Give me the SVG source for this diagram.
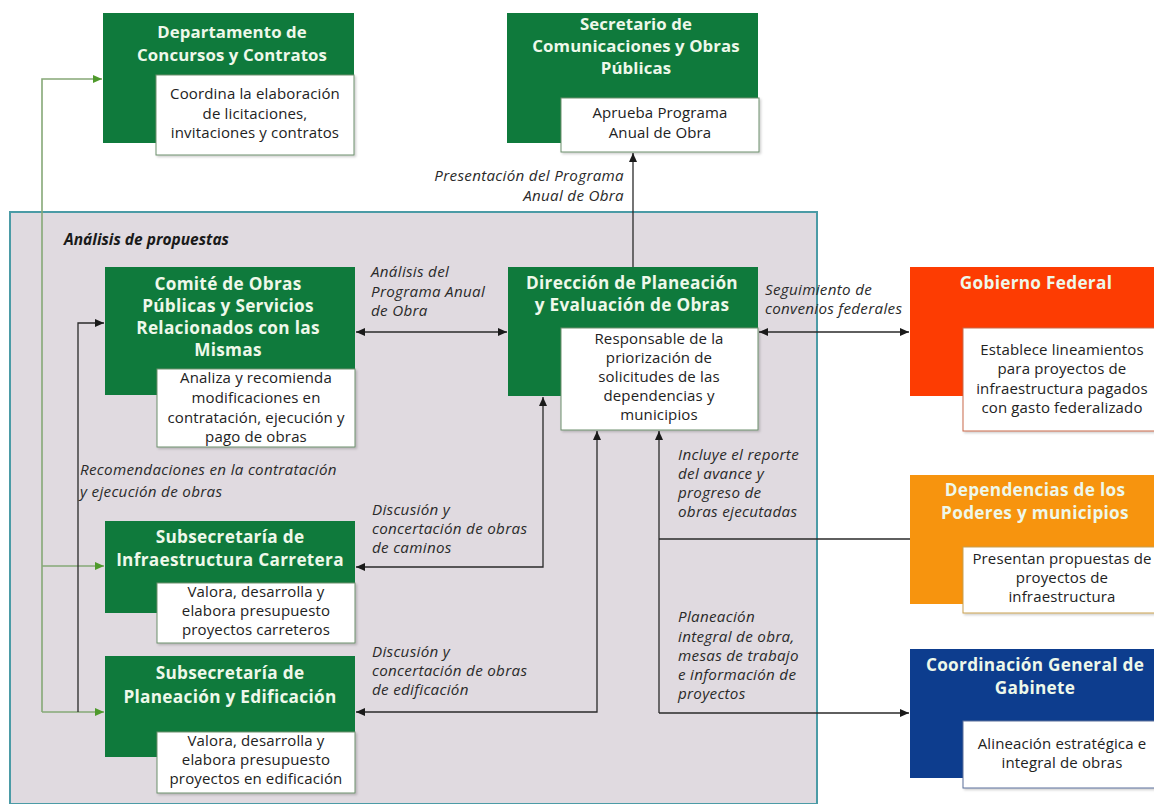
<svg xmlns="http://www.w3.org/2000/svg" width="1154" height="804" viewBox="0 0 1154 804">
  <defs>
    <marker id="arr" viewBox="0 0 9 8" refX="9" refY="4" markerWidth="9" markerHeight="8" markerUnits="userSpaceOnUse" orient="auto-start-reverse">
      <path d="M0,0 L9,4 L0,8 z" fill="#1a1a1a"/>
    </marker>
    <marker id="arrG" viewBox="0 0 9 8" refX="9" refY="4" markerWidth="9" markerHeight="8" markerUnits="userSpaceOnUse" orient="auto">
      <path d="M0,0 L9,4 L0,8 z" fill="#4f9a2c"/>
    </marker>
    <filter id="sh" x="-5%" y="-5%" width="115%" height="115%">
      <feDropShadow dx="1.5" dy="1.5" stdDeviation="1" flood-color="#000" flood-opacity="0.2"/>
    </filter>
  </defs>
  <style>
    .green { fill: #0f7a3c; }
    .red { fill: #fd3c02; }
    .orange { fill: #f7940e; }
    .blue { fill: #0d3d8e; }
    .card { fill: #ffffff; stroke: #6d8f6d; stroke-width: 1; filter: url(#sh); }
    .card-r { fill: #ffffff; stroke: #c96a4a; stroke-width: 1; filter: url(#sh); }
    .card-o { fill: #ffffff; stroke: #c9a050; stroke-width: 1; filter: url(#sh); }
    .card-b { fill: #ffffff; stroke: #5a6f9a; stroke-width: 1; filter: url(#sh); }
    .title { font-family: "Open Sans", "Noto Sans", sans-serif; font-weight: bold; font-size: 17.2px; letter-spacing: 0.3px; fill: #eef8ea; text-anchor: middle; }
    .title-s { font-size: 16.8px; letter-spacing: 0.1px; }
    .body { font-family: "Open Sans", "Noto Sans", sans-serif; font-size: 15px; letter-spacing: 0.15px; fill: #222; text-anchor: middle; }
    .lbl { font-family: "Open Sans", "Noto Sans", sans-serif; font-style: italic; font-size: 15.2px; letter-spacing: 0.3px; fill: #2a2a2a; }
    .line { fill: none; stroke: #2a2a2a; stroke-width: 1.3; }
    .gline { fill: none; stroke: #86a877; stroke-width: 1.6; }
  </style>

  <!-- white page -->
  <rect x="0" y="0" width="1154" height="804" fill="#ffffff"/>

  <!-- proposals analysis area -->
  <g id="area-analisis">
    <rect x="10" y="212" width="807" height="592" fill="#e0dae0" stroke="#4b9ba6" stroke-width="2"/>
    <text x="64" y="245" font-family="'Open Sans', 'Noto Sans', sans-serif" font-weight="bold" font-style="italic" font-size="15.5" fill="#1a1a1a">Análisis de propuestas</text>
  </g>

  <!-- connectors -->
  <g id="connectors">
    <path class="gline" d="M42,712 L42,79 L102,79" marker-end="url(#arrG)"/>
    <path class="gline" d="M42,566 L104,566" marker-end="url(#arrG)"/>
    <path class="gline" d="M42,712 L104,712" marker-end="url(#arrG)"/>
    <path class="line" d="M78,712 L78,323 L104,323" marker-end="url(#arr)"/>
    <path class="line" d="M633,267 L633,153" marker-end="url(#arr)"/>
    <path class="line" d="M356,332 L507,332" marker-start="url(#arr)" marker-end="url(#arr)"/>
    <path class="line" d="M759,332 L909,332" marker-start="url(#arr)" marker-end="url(#arr)"/>
    <path class="line" d="M543,397 L543,567 L356,567" marker-start="url(#arr)" marker-end="url(#arr)"/>
    <path class="line" d="M597,431 L597,712 L356,712" marker-start="url(#arr)" marker-end="url(#arr)"/>
    <path class="line" d="M659,713 L659,431" marker-end="url(#arr)"/>
    <path class="line" d="M910,539 L659,539"/>
    <path class="line" d="M659,713 L909,713" marker-end="url(#arr)"/>

    <text class="lbl" text-anchor="end" x="624" y="181">Presentación del Programa</text>
    <text class="lbl" text-anchor="end" x="624" y="201">Anual de Obra</text>

    <text class="lbl" x="371" y="277">Análisis del</text>
    <text class="lbl" x="371" y="297">Programa Anual</text>
    <text class="lbl" x="371" y="316">de Obra</text>

    <text class="lbl" x="765" y="295">Seguimiento de</text>
    <text class="lbl" x="765" y="314">convenios federales</text>

    <text class="lbl" x="80" y="475">Recomendaciones en la contratación</text>
    <text class="lbl" x="80" y="497">y ejecución de obras</text>

    <text class="lbl" x="372" y="515">Discusión y</text>
    <text class="lbl" x="372" y="534">concertación de obras</text>
    <text class="lbl" x="372" y="553">de caminos</text>

    <text class="lbl" x="372" y="657">Discusión y</text>
    <text class="lbl" x="372" y="676">concertación de obras</text>
    <text class="lbl" x="372" y="695">de edificación</text>

    <text class="lbl" x="678" y="460">Incluye el reporte</text>
    <text class="lbl" x="678" y="479">del avance y</text>
    <text class="lbl" x="678" y="498">progreso de</text>
    <text class="lbl" x="678" y="517">obras ejecutadas</text>

    <text class="lbl" x="678" y="622">Planeación</text>
    <text class="lbl" x="678" y="642">integral de obra,</text>
    <text class="lbl" x="678" y="661">mesas de trabajo</text>
    <text class="lbl" x="678" y="680">e información de</text>
    <text class="lbl" x="678" y="699">proyectos</text>
  </g>

  <g id="departamento-concursos">
    <rect class="green" x="103" y="13" width="251" height="130"/>
    <rect class="card" x="156" y="75" width="198" height="80"/>
    <text class="title title-s" x="232" y="38">Departamento de</text>
    <text class="title title-s" x="232" y="61">Concursos y Contratos</text>
    <text class="body" x="255" y="99">Coordina la elaboración</text>
    <text class="body" x="255" y="119">de licitaciones,</text>
    <text class="body" x="255" y="138">invitaciones y contratos</text>
  </g>

  <g id="secretario">
    <rect class="green" x="507" y="13" width="251" height="130"/>
    <rect class="card" x="561" y="98" width="198" height="54"/>
    <text class="title title-s" x="636" y="30">Secretario de</text>
    <text class="title title-s" x="636" y="52">Comunicaciones y Obras</text>
    <text class="title title-s" x="636" y="74">Públicas</text>
    <text class="body" x="660" y="118">Aprueba Programa</text>
    <text class="body" x="660" y="138">Anual de Obra</text>
  </g>

  <g id="comite">
    <rect class="green" x="105" y="267" width="250" height="128"/>
    <rect class="card" x="157" y="369" width="198" height="78"/>
    <text class="title" x="228" y="290">Comité de Obras</text>
    <text class="title" x="228" y="312">Públicas y Servicios</text>
    <text class="title" x="228" y="334">Relacionados con las</text>
    <text class="title" x="228" y="356">Mismas</text>
    <text class="body" x="256" y="383">Analiza y recomienda</text>
    <text class="body" x="256" y="403">modificaciones en</text>
    <text class="body" x="256" y="423">contratación, ejecución y</text>
    <text class="body" x="256" y="442">pago de obras</text>
  </g>

  <g id="direccion-planeacion">
    <rect class="green" x="508" y="267" width="250" height="129"/>
    <rect class="card" x="561" y="328" width="197" height="102"/>
    <text class="title" x="632" y="289">Dirección de Planeación</text>
    <text class="title" x="632" y="311">y Evaluación de Obras</text>
    <text class="body" x="659" y="344">Responsable de la</text>
    <text class="body" x="659" y="363">priorización de</text>
    <text class="body" x="659" y="382">solicitudes de las</text>
    <text class="body" x="659" y="401">dependencias y</text>
    <text class="body" x="659" y="420">municipios</text>
  </g>

  <g id="gobierno-federal">
    <rect class="red" x="910" y="267" width="252" height="129"/>
    <rect class="card-r" x="963" y="328" width="198" height="103"/>
    <text class="title" x="1036" y="289" fill="#fde9dc">Gobierno Federal</text>
    <text class="body" x="1062" y="355">Establece lineamientos</text>
    <text class="body" x="1062" y="374">para proyectos de</text>
    <text class="body" x="1062" y="394">infraestructura pagados</text>
    <text class="body" x="1062" y="413">con gasto federalizado</text>
  </g>

  <g id="dependencias-poderes">
    <rect class="orange" x="910" y="475" width="252" height="129"/>
    <rect class="card-o" x="963" y="547" width="198" height="66"/>
    <text class="title" x="1035" y="496">Dependencias de los</text>
    <text class="title" x="1035" y="519">Poderes y municipios</text>
    <text class="body" x="1062" y="564">Presentan propuestas de</text>
    <text class="body" x="1062" y="583">proyectos de</text>
    <text class="body" x="1062" y="602">infraestructura</text>
  </g>

  <g id="coordinacion-gabinete">
    <rect class="blue" x="910" y="649" width="252" height="129"/>
    <rect class="card-b" x="963" y="721" width="198" height="67"/>
    <text class="title" x="1035" y="671">Coordinación General de</text>
    <text class="title" x="1035" y="694">Gabinete</text>
    <text class="body" x="1062" y="749">Alineación estratégica e</text>
    <text class="body" x="1062" y="768">integral de obras</text>
  </g>

  <g id="subsecretaria-carretera">
    <rect class="green" x="105" y="521" width="250" height="92"/>
    <rect class="card" x="157" y="583" width="198" height="60"/>
    <text class="title" x="230" y="543">Subsecretaría de</text>
    <text class="title" x="230" y="566">Infraestructura Carretera</text>
    <text class="body" x="256" y="597">Valora, desarrolla y</text>
    <text class="body" x="256" y="616">elabora presupuesto</text>
    <text class="body" x="256" y="635">proyectos carreteros</text>
  </g>

  <g id="subsecretaria-edificacion">
    <rect class="green" x="105" y="656" width="250" height="101"/>
    <rect class="card" x="157" y="732" width="198" height="61"/>
    <text class="title" x="230" y="679">Subsecretaría de</text>
    <text class="title" x="230" y="703">Planeación y Edificación</text>
    <text class="body" x="256" y="746">Valora, desarrolla y</text>
    <text class="body" x="256" y="765">elabora presupuesto</text>
    <text class="body" x="256" y="784">proyectos en edificación</text>
  </g>
</svg>
